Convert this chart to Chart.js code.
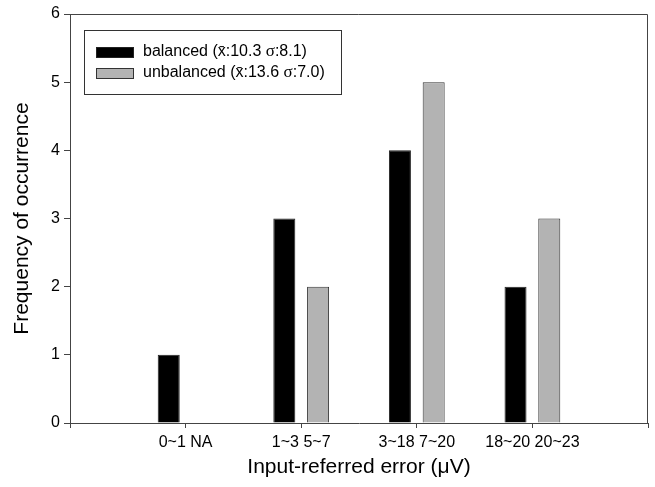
<!DOCTYPE html>
<html>
<head>
<meta charset="utf-8">
<script src="https://cdn.jsdelivr.net/npm/chart.js@4/dist/chart.umd.min.js"></script>
<style>
  html, body { margin: 0; padding: 0; background: #fff; }
  canvas { display: block; }
</style>
</head>
<body>
<canvas id="chart" width="655" height="487"></canvas>
<script>
// categories sit at x = 1..4 on a 0..5 linear axis
const categories = ['0~1 NA', '1~3 5~7', '3~18 7~20', '18~20 20~23'];
const balanced = [1, 3, 4, 2];
const unbalanced = [null, 2, 5, 3];   // NA in the first bin
const seriesLabels = ['balanced (x\u0304:10.3 \u03c3:8.1)', 'unbalanced (x\u0304:13.6 \u03c3:7.0)'];
const yTicks = [0, 1, 2, 3, 4, 5, 6];

const SANS = '"Liberation Sans", Arial, sans-serif';
const toPoints = arr => arr.map((v, i) => ({ x: i + 1, y: v }));

// box round the plot + the boxed legend in the upper left
const framePlugin = {
    id: 'frame',
    afterDraw(chart) {
        const { ctx, chartArea: a } = chart;
        ctx.save();
        ctx.strokeStyle = '#444';
        ctx.lineWidth = 1;
        ctx.beginPath();
        ctx.moveTo(a.left, a.top + 0.5);
        ctx.lineTo(a.right - 0.5, a.top + 0.5);
        ctx.lineTo(a.right - 0.5, a.bottom);
        ctx.stroke();

        // legend
        const lx = a.left + 14, ly = a.top + 16, lw = 257, lh = 64;
        ctx.fillStyle = '#fff';
        ctx.fillRect(lx, ly, lw, lh);
        ctx.strokeStyle = '#333';
        ctx.strokeRect(lx + 0.5, ly + 0.5, lw, lh);
        ctx.textBaseline = 'middle';
        chart.data.datasets.forEach((ds, i) => {
            const rowY = ly + 22 + i * 21;
            ctx.fillStyle = ds.backgroundColor;
            ctx.fillRect(lx + 12, rowY - 5, 38, 11);
            ctx.strokeStyle = ds.borderColor;
            ctx.strokeRect(lx + 12.5, rowY - 4.5, 37, 10);
            ctx.fillStyle = '#000';
            // sigma glyph is set in a serif face, as in the original
            let x = lx + 59;
            ds.label.split(/(\u03c3)/).forEach(part => {
                ctx.font = part === '\u03c3' ? '17px "Liberation Serif", serif' : '16px ' + SANS;
                ctx.fillText(part, x, rowY);
                x += ctx.measureText(part).width;
            });
        });
        ctx.restore();
    }
};

new Chart(document.getElementById('chart'), {
    type: 'bar',
    data: {
        datasets: [{
            label: seriesLabels[0],
            data: toPoints(balanced),
            backgroundColor: '#000000',
            borderColor: '#222222',
            borderWidth: 1,
            borderSkipped: 'start'
        }, {
            label: seriesLabels[1],
            data: toPoints(unbalanced),
            backgroundColor: '#b3b3b3',
            borderColor: '#333333',
            borderWidth: 1,
            borderSkipped: 'start'
        }]
    },
    plugins: [framePlugin],
    options: {
        responsive: false,
        animation: false,
        devicePixelRatio: 1,
        layout: { padding: { left: 0, top: 14, right: 7, bottom: 0 } },
        datasets: { bar: { categoryPercentage: 0.584, barPercentage: 0.652 } },
        plugins: { legend: { display: false }, tooltip: { enabled: false } },
        scales: {
            x: {
                type: 'linear',
                offset: false,
                min: 0, max: 5,
                afterBuildTicks: s => { s.ticks = [0, 1, 2, 3, 4, 5].map(v => ({ value: v })); },
                afterFit: s => { s.height = 64; },
                ticks: {
                    color: '#000',
                    font: { family: SANS, size: 16 },
                    padding: 5,
                    maxRotation: 0,
                    autoSkip: false,
                    callback: v => categories[v - 1] || ''
                },
                grid: { drawOnChartArea: false, offset: false, tickLength: 5, color: '#444' },
                border: { color: '#444', width: 1 },
                title: {
                    display: true,
                    text: 'Input-referred error (\u03bcV)',
                    color: '#000',
                    font: { family: SANS, size: 21 },
                    padding: { top: 0, bottom: 7 }
                }
            },
            y: {
                min: 0, max: 6,
                afterBuildTicks: s => { s.ticks = yTicks.map(v => ({ value: v })); },
                afterFit: s => { s.width = 70; },
                ticks: {
                    color: '#000',
                    font: { family: SANS, size: 16 },
                    padding: 4
                },
                grid: { drawOnChartArea: false, tickLength: 6, color: '#444' },
                border: { color: '#444', width: 1 },
                title: {
                    display: true,
                    text: 'Frequency of occurrence',
                    color: '#000',
                    font: { family: SANS, size: 21 },
                    padding: { top: 10, bottom: 0 }
                }
            }
        }
    }
});
</script>
</body>
</html>
